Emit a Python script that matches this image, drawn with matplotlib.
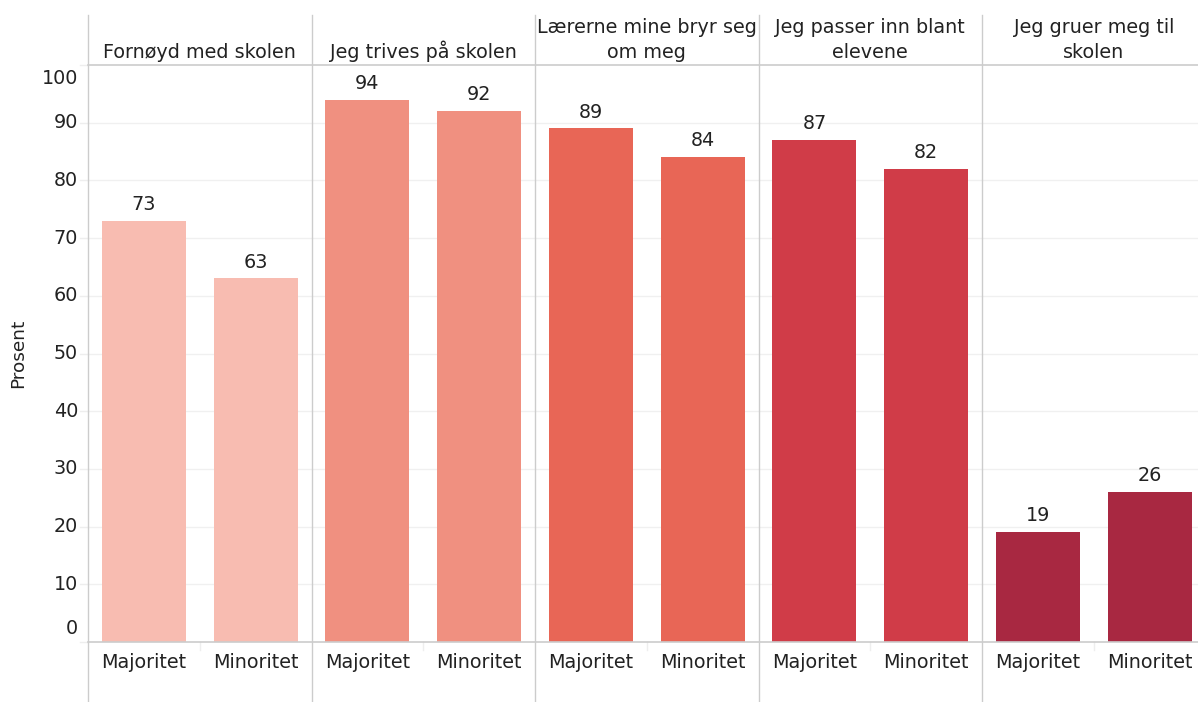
import matplotlib
matplotlib.use('Agg')
import matplotlib.pyplot as plt
from matplotlib.lines import Line2D
from matplotlib.transforms import ScaledTranslation

plt.rcParams['font.family'] = ['DejaVu Sans']

# 데이터
panels = ['Fornøyd med skolen', 'Jeg trives på skolen', 'Lærerne mine bryr seg\nom meg',
          'Jeg passer inn blant\nelevene', 'Jeg gruer meg til\nskolen']
groups = ['Majoritet', 'Minoritet']
majoritet = [73, 94, 89, 87, 19]
minoritet = [63, 92, 84, 82, 26]
colors = ['#F8BCB1', '#F09080', '#E86656', '#D03C48', '#A82841']
yticks = [0, 10, 20, 30, 40, 50, 60, 70, 80, 90, 100]

W, H = 1198, 702
fig = plt.figure(figsize=(W / 100, H / 100), dpi=100)

x0, pw = 88, 223.5
top_px, base_px = 65, 642
line_c = '#cccccc'
text_c = '#222222'
fs = 13.8

for i, name in enumerate(panels):
    left = x0 + i * pw
    ax = fig.add_axes([left / W, 1 - base_px / H, pw / W, (base_px - top_px) / H])
    vals = [majoritet[i], minoritet[i]]
    ax.bar([0, 1], vals, width=0.75, color=colors[i], zorder=2)
    ax.set_xlim(-0.5, 1.5)
    ax.set_ylim(0, 100)
    for v in yticks[1:-1]:
        ax.axhline(v, color='#f0f0f0', lw=1, zorder=0)
    for s in ax.spines.values():
        s.set_visible(False)
    ax.set_yticks([])
    ax.set_xticks([0, 1])
    ax.set_xticklabels(groups, fontsize=fs, color=text_c)
    ax.tick_params(axis='x', length=0, pad=8)
    ax.patch.set_alpha(0)
    for xi, v in enumerate(vals):
        ax.annotate(f'{v}', (xi, v), xytext=(0, 5), textcoords='offset points',
                    ha='center', va='bottom', fontsize=fs, color=text_c)
    fig.text((left + pw / 2) / W, 1 - 62 / H, name, ha='center', va='bottom',
             fontsize=fs, color=text_c, linespacing=1.4)
    if i == 0:
        for v in yticks:
            dy = 0
            if v == 0:
                dy = 14
            elif v == 100:
                dy = -13
            tr = ax.get_yaxis_transform() + ScaledTranslation(0, dy / 100, fig.dpi_scale_trans)
            ax.text(-0.045, v, str(v), transform=tr, ha='right', va='center',
                    fontsize=fs, color=text_c)
            ax.plot([-8 / pw, 0], [v, v], transform=ax.get_yaxis_transform(),
                    color='#eeeeee', lw=1, clip_on=False)
        ax.set_ylabel('Prosent', fontsize=fs - 0.5, color=text_c, labelpad=44)

    # 패널 구분선
    fig.add_artist(Line2D([left / W, left / W], [1 - 15 / H, 0], color=line_c, lw=1))
    # 가운데 눈금
    cx = (left + pw / 2) / W
    fig.add_artist(Line2D([cx, cx], [1 - base_px / H, 1 - (base_px + 8) / H], color='#eeeeee', lw=1))

fig.add_artist(Line2D([x0 / W, 1], [1 - top_px / H] * 2, color=line_c, lw=1.2))
fig.add_artist(Line2D([x0 / W, 1], [1 - base_px / H] * 2, color=line_c, lw=1.2))

fig.savefig('out.png', dpi=100)
